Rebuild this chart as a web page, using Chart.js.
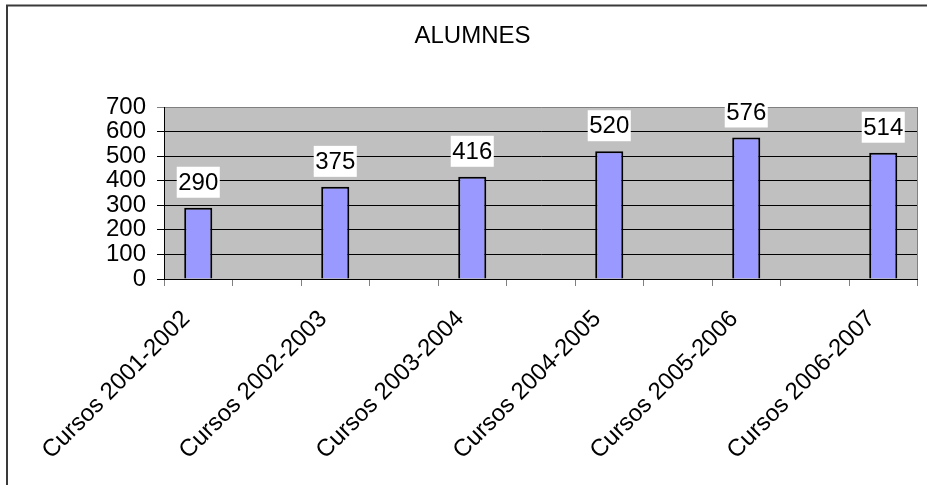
<!DOCTYPE html>
<html>
<head>
<meta charset="utf-8">
<script src="https://cdn.jsdelivr.net/npm/chart.js@4"></script>
<style>
  html, body { margin: 0; padding: 0; background: #fff; }
  canvas { display: block; }
</style>
</head>
<body>
<canvas id="chart" width="927" height="485"></canvas>
<script>
// Chart data
const cursos = ['Cursos 2001-2002', 'Cursos 2002-2003', 'Cursos 2003-2004',
                'Cursos 2004-2005', 'Cursos 2005-2006', 'Cursos 2006-2007'];
const alumnes = [290, 375, 416, 520, 576, 514];
const yTicks = [0, 100, 200, 300, 400, 500, 600, 700];
const titol = 'ALUMNES';

const FONT = '"Liberation Sans", Arial, sans-serif';

// the original sheet has an empty category between each course
const labels = [];
const values = [];
cursos.forEach((c, i) => {
    if (i > 0) { labels.push(''); values.push(null); }
    labels.push(c);
    values.push(alumnes[i]);
});

// Gray plot background, frame, title and gray plot border
const excelLook = {
    id: 'excelLook',
    beforeDraw(chart) {
        const { ctx, chartArea: a } = chart;
        ctx.save();
        ctx.fillStyle = '#c0c0c0';
        ctx.fillRect(a.left, a.top, a.right - a.left, a.bottom - a.top);
        ctx.restore();
    },
    afterDraw(chart) {
        const { ctx, chartArea: a } = chart;
        ctx.save();
        // right edge of the plot
        ctx.strokeStyle = '#808080';
        ctx.lineWidth = 1;
        ctx.beginPath();
        ctx.moveTo(Math.round(a.right) - 0.5, a.top);
        ctx.lineTo(Math.round(a.right) - 0.5, a.bottom);
        ctx.stroke();
        // outer frame (cut off on right and bottom)
        ctx.strokeStyle = '#3a3a3a';
        ctx.lineWidth = 2;
        ctx.beginPath();
        ctx.moveTo(7, 500);
        ctx.lineTo(7, 5.5);
        ctx.lineTo(940, 5.5);
        ctx.stroke();
        // title
        ctx.fillStyle = '#000';
        ctx.font = '24px ' + FONT;
        ctx.textAlign = 'center';
        ctx.textBaseline = 'middle';
        ctx.fillText(titol, 472.5, 36);
        ctx.restore();
    }
};

// White value boxes above each bar
const valueBoxes = {
    id: 'valueBoxes',
    afterDatasetsDraw(chart) {
        const ctx = chart.ctx;
        const meta = chart.getDatasetMeta(0);
        ctx.save();
        ctx.font = '24px ' + FONT;
        ctx.textAlign = 'center';
        ctx.textBaseline = 'middle';
        meta.data.forEach((bar, i) => {
            const v = values[i];
            if (v === null) return;
            const txt = String(v);
            const w = ctx.measureText(txt).width + 3;
            const h = 31;
            const bottom = bar.y - 10;
            ctx.fillStyle = '#fff';
            ctx.fillRect(bar.x - w / 2, bottom - h, w, h);
            ctx.fillStyle = '#000';
            ctx.fillText(txt, bar.x, bottom - h / 2 + 1);
        });
        ctx.restore();
    }
};

new Chart(document.getElementById('chart'), {
    type: 'bar',
    data: {
        labels: labels,
        datasets: [{
            label: titol,
            data: values,
            backgroundColor: '#9999ff',
            borderColor: '#000',
            borderWidth: 2,
            categoryPercentage: 1,
            barPercentage: 0.41
        }]
    },
    options: {
        responsive: false,
        animation: false,
        devicePixelRatio: 1,
        layout: { padding: { left: 18, top: 107, right: 9.5, bottom: 0 } },
        plugins: {
            legend: { display: false },
            title: { display: false },
            tooltip: { enabled: false }
        },
        scales: {
            x: {
                grid: {
                    offset: true,
                    drawOnChartArea: false,
                    drawTicks: true,
                    tickLength: 7,
                    color: '#808080'
                },
                border: { color: '#000', width: 1 },
                ticks: {
                    autoSkip: false,
                    maxRotation: 45,
                    minRotation: 45,
                    padding: 19,
                    labelOffset: -12,
                    color: '#000',
                    font: { family: FONT, size: 24 }
                },
                afterFit(scale) { scale.height = 206; }
            },
            y: {
                min: 0,
                max: 700,
                afterBuildTicks(scale) {
                    scale.ticks = yTicks.map(v => ({ value: v }));
                },
                grid: {
                    color: ctx => (ctx.tick && ctx.tick.value === 700) ? '#808080' : '#000',
                    lineWidth: 1,
                    tickLength: 7
                },
                border: { color: '#000', width: 1 },
                ticks: {
                    autoSkip: false,
                    padding: 11,
                    color: '#000',
                    font: { family: FONT, size: 24 }
                },
                afterFit(scale) { scale.width = 146; }
            }
        }
    },
    plugins: [excelLook, valueBoxes]
});
</script>
</body>
</html>
